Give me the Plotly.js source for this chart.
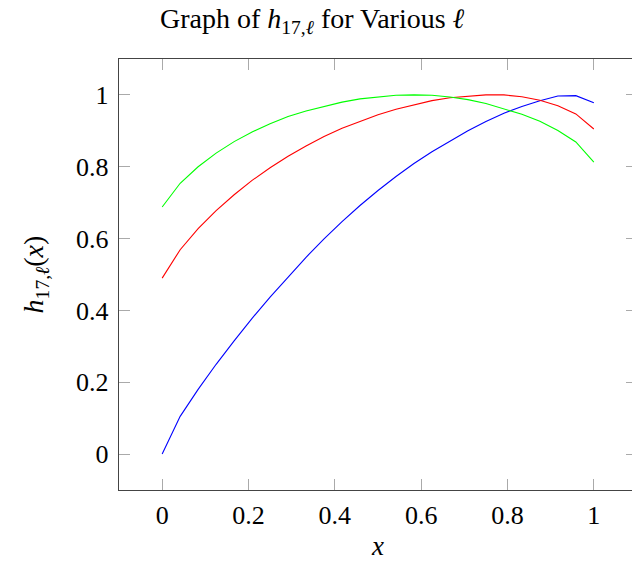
<!DOCTYPE html>
<html>
<head>
<meta charset="utf-8">
<script src="https://cdn.plot.ly/plotly-3.0.1.min.js"></script>
<style>
html, body { margin: 0; padding: 0; overflow: hidden; background: #fff; }
#chart { width: 637px; height: 565px; }
</style>
</head>
<body>
<div id="chart"></div>
<script>
// x samples (k/24, k = 0..24)
const xValues = [0, 0.0417, 0.0833, 0.125, 0.1667, 0.2083, 0.25, 0.2917, 0.3333, 0.375, 0.4167, 0.4583, 0.5,
                 0.5417, 0.5833, 0.625, 0.6667, 0.7083, 0.75, 0.7917, 0.8333, 0.875, 0.9167, 0.9583, 1];
const blueValues = [0, 0.105, 0.18, 0.25, 0.315, 0.378, 0.437, 0.494, 0.548, 0.599, 0.647, 0.692, 0.734,
                    0.773, 0.809, 0.842, 0.872, 0.900, 0.926, 0.949, 0.968, 0.984, 0.997, 0.998, 0.978];
const redValues = [0.49, 0.569, 0.628, 0.678, 0.722, 0.762, 0.797, 0.829, 0.858, 0.884, 0.907, 0.927, 0.945,
                   0.960, 0.973, 0.984, 0.992, 0.997, 1.0, 1.0, 0.995, 0.985, 0.970, 0.947, 0.905];
const greenValues = [0.688, 0.754, 0.800, 0.838, 0.870, 0.897, 0.920, 0.940, 0.955, 0.968, 0.980, 0.989, 0.995,
                     0.999, 1.0, 0.999, 0.994, 0.987, 0.976, 0.962, 0.946, 0.927, 0.901, 0.869, 0.813];
const tickVals = [0, 0.2, 0.4, 0.6, 0.8, 1];
const tickText = ['0', '0.2', '0.4', '0.6', '0.8', '1'];

const serif = '"Liberation Serif", "DejaVu Serif", serif';

const traces = [
  {x: xValues, y: blueValues, mode: 'lines', line: {color: '#0000ff', width: 1.1}, hoverinfo: 'skip'},
  {x: xValues, y: redValues, mode: 'lines', line: {color: '#ff0000', width: 1.1}, hoverinfo: 'skip'},
  {x: xValues, y: greenValues, mode: 'lines', line: {color: '#00ff00', width: 1.1}, hoverinfo: 'skip'}
];

const axisCommon = {
  range: [-0.1, 1.1],
  tickvals: tickVals,
  ticktext: tickText,
  ticks: 'inside',
  ticklen: 11,
  tickwidth: 1,
  tickcolor: '#aaaaaa',
  showline: true,
  linecolor: '#444444',
  linewidth: 1.2,
  mirror: 'allticks',
  showgrid: false,
  zeroline: false,
  tickfont: {family: serif, size: 26, color: '#000'}
};

const layout = {
  width: 637,
  height: 565,
  margin: {l: 119, r: 0, t: 59, b: 75},
  paper_bgcolor: '#fff',
  plot_bgcolor: '#fff',
  showlegend: false,
  font: {family: serif, color: '#000'},
  title: {
    text: 'Graph of <i>h</i><sub>17,<i>ℓ</i></sub> for Various <i>ℓ</i>',
    font: {family: serif, size: 28, color: '#000'},
    xref: 'container', x: 0.49, xanchor: 'center',
    yref: 'container', y: 0.968, yanchor: 'middle'
  },
  xaxis: Object.assign({}, axisCommon, {
    ticklabelstandoff: 2,
    title: {text: '<i>x</i>', font: {family: serif, size: 27, color: '#000'}, standoff: 6}
  }),
  yaxis: Object.assign({}, axisCommon, {
    ticklabelstandoff: 4,
    title: {text: '<i>h</i><sub>17,<i>ℓ</i></sub>(<i>x</i>)', font: {family: serif, size: 28, color: '#000'}, standoff: 24}
  })
};

Plotly.newPlot('chart', traces, layout, {staticPlot: true, displayModeBar: false});
</script>
</body>
</html>
